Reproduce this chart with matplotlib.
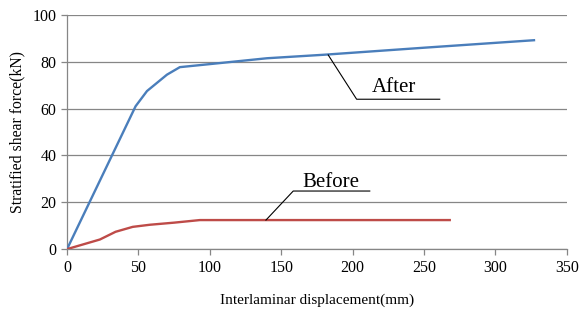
import matplotlib
matplotlib.use('Agg')
import matplotlib.pyplot as plt

plt.rcParams['font.family'] = 'Liberation Serif'
plt.rcParams['font.size'] = 10

# Datos
after_x = [0, 48, 56, 70, 79, 100, 140, 180, 250, 327]
after_y = [0, 61, 67.5, 74.5, 77.7, 79, 81.5, 83, 86, 89.2]
before_x = [0, 23, 34, 46, 58, 75, 93, 140, 200, 268]
before_y = [0, 4.1, 7.4, 9.5, 10.4, 11.3, 12.4, 12.4, 12.4, 12.4]

azul = '#4A7EBB'
rojo = '#BE4B48'
gris = '#868686'

fig = plt.figure(figsize=(5.88, 3.11), dpi=100)
ax = fig.add_axes([0.114, 0.199, 0.850, 0.753])

ax.plot(after_x, after_y, color=azul, lw=1.7, zorder=3)
ax.plot(before_x, before_y, color=rojo, lw=1.7, zorder=3)

ax.set_xlim(0, 350)
ax.set_ylim(0, 100)
ax.set_xticks(range(0, 351, 50))
ax.set_yticks(range(0, 101, 20))
ax.yaxis.grid(True, color=gris, lw=0.9)
ax.set_axisbelow(True)
for s in ['top', 'right']:
    ax.spines[s].set_visible(False)
for s in ['left', 'bottom']:
    ax.spines[s].set_color(gris)
    ax.spines[s].set_linewidth(0.9)
ax.tick_params(colors=gris, labelcolor='black', length=4, width=0.9, labelsize=11.5)

ax.set_xlabel('Interlaminar displacement(mm)', fontsize=11, labelpad=13)
ax.set_ylabel('Stratified shear force(kN)', fontsize=11.3, labelpad=5)

# Etiquetas con linea guia
ax.plot([182.9, 202.8, 261], [82.9, 64, 64], color='black', lw=0.8, zorder=4)
ax.text(229, 69, 'After', fontsize=15, ha='center', va='center')
ax.plot([139.3, 158.4, 212], [12.4, 24.8, 24.8], color='black', lw=0.8, zorder=4)
ax.text(185, 28.5, 'Before', fontsize=15, ha='center', va='center')

plt.savefig('out.png', dpi=100)
